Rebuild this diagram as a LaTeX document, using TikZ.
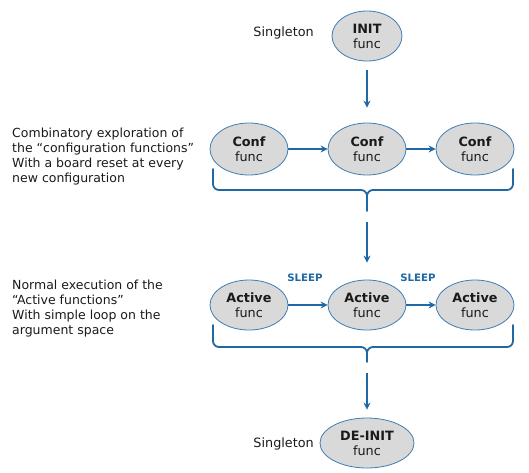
\documentclass[tikz,border=0pt]{standalone}
\usepackage{fontspec}
\setmainfont{DejaVu Sans}
\usetikzlibrary{shapes.geometric,arrows.meta}
\definecolor{edgeblue}{HTML}{3F7DB3}
\definecolor{arrblue}{HTML}{1F68A3}
\definecolor{fillgray}{HTML}{D9D9D9}
\definecolor{txt}{HTML}{1A1A1A}
\tikzset{
  func/.style={ellipse,draw=edgeblue,fill=fillgray,line width=0.8pt,inner sep=0pt,
    align=center,font=\fontsize{12.8}{15}\selectfont,text=txt},
  conn/.style={draw=arrblue,line width=1.8pt,-{Stealth[length=7pt,width=7pt]}},
  brace/.style={draw=arrblue,line width=1.8pt,line cap=round,line join=round},
  side/.style={align=left,anchor=north west,inner sep=0pt,font=\fontsize{12.5}{15}\selectfont,text=txt},
  single/.style={inner sep=0pt,font=\fontsize{12.8}{14}\selectfont,text=txt},
  sleep/.style={inner sep=0pt,font=\fontsize{10.2}{12}\selectfont\bfseries,text=arrblue}
}
\begin{document}
\begin{tikzpicture}[x=1pt,y=-1pt]
\useasboundingbox (0,0) rectangle (529,472);
% top
\node[func,minimum width=70pt,minimum height=50pt] (init) at (367,36) {\textbf{INIT}\\func};
\node[single,anchor=east] (s1) at (314,33) {Singleton};
% conf row
\node[func,minimum width=78pt,minimum height=52pt] (c1) at (249,149) {\textbf{Conf}\\func};
\node[func,minimum width=78pt,minimum height=52pt] (c2) at (367,149) {\textbf{Conf}\\func};
\node[func,minimum width=78pt,minimum height=52pt] (c3) at (475,149) {\textbf{Conf}\\func};
\draw[conn,shorten <=9pt,shorten >=15pt] (init) -- (c2);
\draw[conn] (c1) -- (c2);
\draw[conn] (c2) -- (c3);
\node[side] (t1) at (12,128) {Combinatory exploration of\\the “configuration functions”\\With a board reset at every\\new configuration};
% brace 1
\coordinate (b1) at (367,211);
\draw[brace] (213,169) -- (213,184) to[out=-90,in=180] (219,190) -- (361,190) to[out=0,in=90] (367,196) -- (b1);
\draw[brace] (513,169) -- (513,184) to[out=-90,in=0] (507,190) -- (373,190) to[out=180,in=90] (367,196);
% active row
\node[func,minimum width=78pt,minimum height=50pt] (a1) at (249,305) {\textbf{Active}\\func};
\node[func,minimum width=78pt,minimum height=50pt] (a2) at (367,305) {\textbf{Active}\\func};
\node[func,minimum width=78pt,minimum height=50pt] (a3) at (475,305) {\textbf{Active}\\func};
\coordinate (b1s) at (367,222);
\draw[conn,shorten >=17pt] (b1s) -- (a2);
\draw[conn] (a1) -- node[sleep,above=22pt,xshift=-3pt] (sl1) {SLEEP} (a2);
\draw[conn] (a2) -- node[sleep,above=22pt,xshift=-3pt] (sl2) {SLEEP} (a3);
\node[side] (t2) at (12,280) {Normal execution of the\\“Active functions”\\With simple loop on the\\argument space};
% brace 2
\coordinate (b2) at (367,362);
\draw[brace] (213,325) -- (213,341) to[out=-90,in=180] (219,347) -- (361,347) to[out=0,in=90] (367,353) -- (b2);
\draw[brace] (513,325) -- (513,341) to[out=-90,in=0] (507,347) -- (373,347) to[out=180,in=90] (367,353);
% bottom
\node[func,minimum width=94pt,minimum height=50pt] (de) at (367,443) {\textbf{DE-INIT}\\func};
\node[single,anchor=east] (s2) at (314,444) {Singleton};
\coordinate (b2s) at (367,373);
\draw[conn,shorten >=8pt] (b2s) -- (de);
\end{tikzpicture}
\end{document}
